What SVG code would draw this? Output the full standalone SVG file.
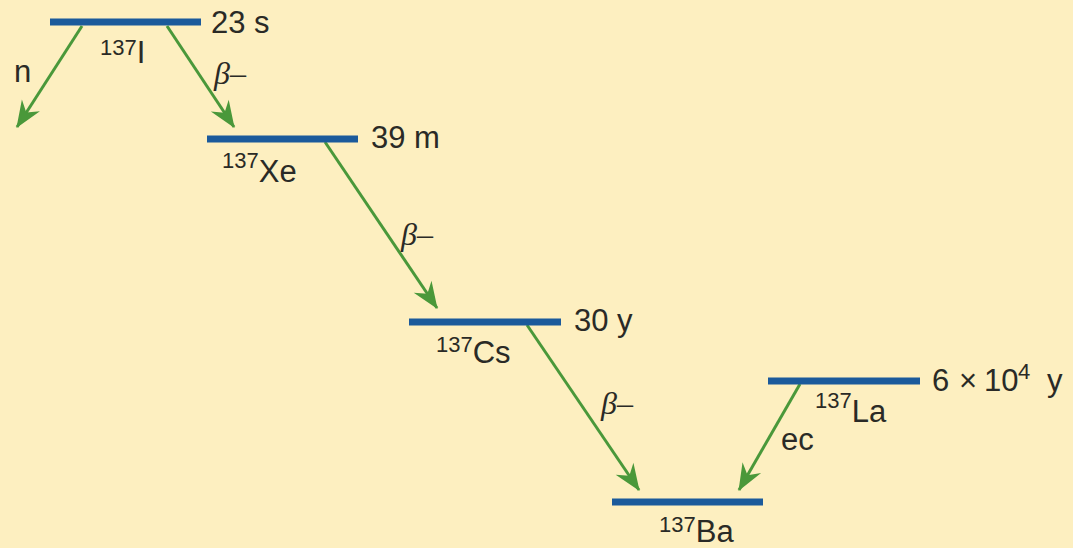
<svg xmlns="http://www.w3.org/2000/svg" width="1073" height="548" viewBox="0 0 1073 548">
<style>
.bg{fill:#FDEFC0}
.lvl{stroke:#1B5A9B;stroke-width:7;stroke-linecap:butt}
.arr{stroke:#4A983A;stroke-width:3;fill:none}
text{font-family:"Liberation Sans",Arial,sans-serif;fill:#2A2A26;font-size:31px}
.sup{font-size:22px}
.beta{font-family:"Liberation Serif","Times New Roman",serif;font-style:italic;font-size:32px}
</style>
<defs>
<marker id="ah" markerUnits="userSpaceOnUse" markerWidth="30" markerHeight="30" viewBox="-26 -12 28 24" refX="0" refY="0" orient="auto">
<path d="M1,0 L-24,-10 L-16,0 L-24,10 Z" fill="#4A983A"/>
</marker>
</defs>
<rect class="bg" x="0" y="0" width="1073" height="548"/>
<g id="connectors">
<line class="arr" x1="82" y1="26" x2="17" y2="127" marker-end="url(#ah)"/>
<line class="arr" x1="167" y1="26" x2="234" y2="127" marker-end="url(#ah)"/>
<line class="arr" x1="325" y1="142" x2="437" y2="308" marker-end="url(#ah)"/>
<line class="arr" x1="527" y1="325" x2="639" y2="490" marker-end="url(#ah)"/>
<line class="arr" x1="800" y1="384" x2="739" y2="490" marker-end="url(#ah)"/>
<text x="14" y="82">n</text>
<text class="beta" x="214" y="84">β–</text>
<text class="beta" x="401" y="245">β–</text>
<text class="beta" x="601" y="414">β–</text>
<text x="781" y="450">ec</text>
</g>
<g id="I137">
<line class="lvl" x1="50" y1="22" x2="201" y2="22"/>
<text x="211" y="33">23 s</text>
<text x="100" y="63"><tspan class="sup" dy="-8">137</tspan><tspan dy="8">I</tspan></text>
</g>
<g id="Xe137">
<line class="lvl" x1="207" y1="139" x2="358" y2="139"/>
<text x="371" y="148">39 m</text>
<text x="222" y="182"><tspan class="sup" dy="-14">137</tspan><tspan dy="14">Xe</tspan></text>
</g>
<g id="Cs137">
<line class="lvl" x1="409" y1="322" x2="561" y2="322"/>
<text x="574" y="331">30 y</text>
<text x="436" y="363"><tspan class="sup" dy="-11">137</tspan><tspan dy="11">Cs</tspan></text>
</g>
<g id="La137">
<line class="lvl" x1="768" y1="381" x2="920" y2="381"/>
<text x="932" y="391">6<tspan x="959">×</tspan><tspan x="984">10</tspan><tspan class="sup" x="1018" dy="-12">4</tspan><tspan x="1047" dy="12">y</tspan></text>
<text x="815" y="422"><tspan class="sup" dy="-14">137</tspan><tspan dy="14">La</tspan></text>
</g>
<g id="Ba137">
<line class="lvl" x1="612" y1="502" x2="763" y2="502"/>
<text x="659" y="542"><tspan class="sup" dy="-10">137</tspan><tspan dy="10">Ba</tspan></text>
</g>
</svg>
